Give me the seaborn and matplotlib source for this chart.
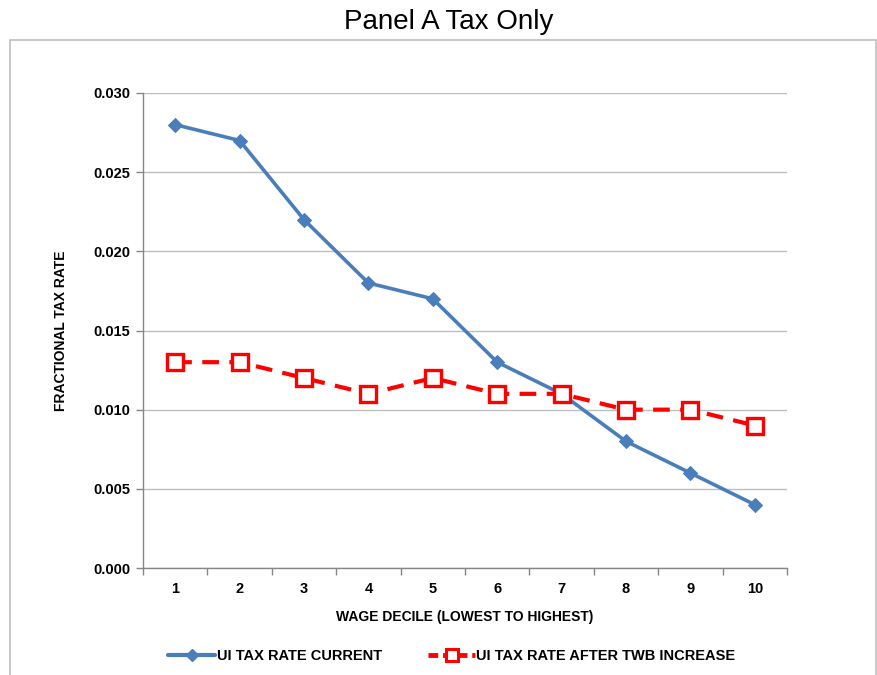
import matplotlib
matplotlib.use("Agg")
import matplotlib.pyplot as plt
import seaborn as sns
import pandas as pd
from matplotlib.patches import Rectangle
from matplotlib.lines import Line2D

deciles = [1, 2, 3, 4, 5, 6, 7, 8, 9, 10]
current = [0.028, 0.027, 0.022, 0.018, 0.017, 0.013, 0.011, 0.008, 0.006, 0.004]
after = [0.013, 0.013, 0.012, 0.011, 0.012, 0.011, 0.011, 0.010, 0.010, 0.009]
yticks = [0.000, 0.005, 0.010, 0.015, 0.020, 0.025, 0.030]
label_current = "UI TAX RATE CURRENT"
label_after = "UI TAX RATE AFTER TWB INCREASE"

sns.set_theme(style="white")
plt.rcParams['font.family'] = ['Liberation Sans', 'DejaVu Sans']
plt.rcParams['text.color'] = 'black'
plt.rcParams['axes.labelcolor'] = 'black'
plt.rcParams['xtick.labelcolor'] = 'black'
plt.rcParams['ytick.labelcolor'] = 'black'

fig = plt.figure(figsize=(8.77, 6.75), dpi=100)
ax = fig.add_axes([143/877, 1-568/675, 644/877, 475/675])

blue = "#4A7EBB"
red = "#FF0000"

sns.lineplot(x=deciles, y=current, ax=ax, color=blue, linewidth=2.6,
             marker="D", markersize=7, markeredgecolor=blue, markerfacecolor=blue,
             zorder=3)
sns.lineplot(x=deciles, y=after, ax=ax, color=red, linewidth=3.0,
             linestyle=(0, (4, 2.5)), marker="s", markersize=11,
             markeredgecolor=red, markerfacecolor="white", markeredgewidth=2.4,
             zorder=4)

ax.set_xlim(0.5, 10.5)
ax.set_ylim(0, 0.030)
ax.set_yticks(yticks)
ax.set_yticklabels([f"{v:.3f}" for v in yticks], fontsize=10.5, fontweight="bold")
ax.set_xticks(deciles)
ax.set_xticklabels([str(d) for d in deciles], fontsize=10.5, fontweight="bold")
ax.set_xticks([d + 0.5 for d in [0] + deciles], minor=True)
ax.tick_params(axis="x", which="major", length=0, pad=10)
ax.tick_params(axis="x", which="minor", length=5, color="#868686", width=1, direction="out", bottom=True)
ax.tick_params(axis="y", which="major", length=5, color="#868686", width=1, direction="out", left=True, pad=4)

ax.grid(axis="y", color="#BEBEBE", linewidth=1)
ax.grid(axis="x", visible=False)
for s in ["top", "right"]:
    ax.spines[s].set_visible(False)
for s in ["left", "bottom"]:
    ax.spines[s].set_color("#868686")
    ax.spines[s].set_linewidth(1)

ax.set_xlabel("WAGE DECILE (LOWEST TO HIGHEST)", fontsize=10, fontweight="bold", labelpad=10)
ax.set_ylabel("FRACTIONAL TAX RATE", fontsize=10, fontweight="bold", labelpad=18)

fig.text(449/877, 1-22/675, "Panel A Tax Only", ha="center", va="center",
         fontsize=20, family=["Liberation Sans Narrow", "Liberation Sans", "DejaVu Sans"])

fig.add_artist(Rectangle((10/877, -0.05), 866/877, 1.05 - 40/675, transform=fig.transFigure,
                         fill=False, edgecolor="#BFBFBF", linewidth=1.2))

handles = [
    Line2D([0], [0], color=blue, linewidth=3, marker="D", markersize=6),
    Line2D([0], [0], color=red, linewidth=3.5, linestyle=(0, (2, 1)), marker="s",
           markersize=9, markerfacecolor="white", markeredgewidth=2.2),
]
fig.legend(handles, [label_current, label_after], loc="center", ncol=2,
           bbox_to_anchor=(452/877, 1-656/675), frameon=False,
           prop={"size": 10.5, "weight": "bold"}, handlelength=3.2, handletextpad=0.1,
           columnspacing=3.2)

fig.savefig("out.png", dpi=100)
